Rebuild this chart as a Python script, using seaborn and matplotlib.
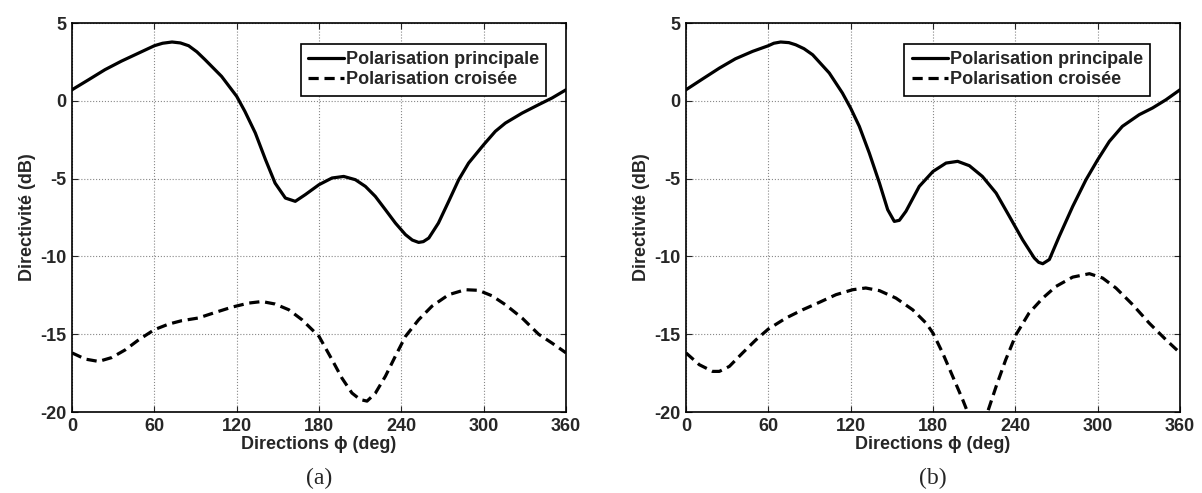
import pandas as pd
import matplotlib
matplotlib.use("Agg")
import matplotlib.pyplot as plt
import seaborn as sns

# Panel (a)
phi_a_pp = [0, 12, 24, 36, 48.6, 60, 66, 72.9, 79, 85, 91, 97, 109, 120, 126, 133.6, 141, 148,
            155.5, 162.7, 170, 180, 189.5, 198, 206.5, 213.8, 221, 228.4, 235.7, 243, 248,
            252.6, 256, 260, 267, 274.5, 281.8, 289, 300, 308.5, 315.8, 328, 340, 349.8, 360]
pp_a = [0.71, 1.35, 2.0, 2.55, 3.07, 3.54, 3.7, 3.78, 3.72, 3.54, 3.15, 2.64, 1.57, 0.29, -0.68,
        -2.07, -3.78, -5.29, -6.25, -6.46, -6.03, -5.39, -4.96, -4.86, -5.07, -5.5, -6.14, -7.0,
        -7.86, -8.6, -8.95, -9.1, -9.05, -8.82, -7.86, -6.46, -5.07, -4.0, -2.82, -1.96, -1.43,
        -0.79, -0.25, 0.18, 0.71]
phi_a_cx = [0, 9.7, 19.4, 29, 38.9, 48.6, 60, 70.4, 80, 92, 104.4, 116.6, 128.7, 138.4, 148,
            158, 167.6, 180, 189.5, 196.7, 204, 210, 215, 221, 228.4, 235.7, 243, 252.6, 262.3,
            274.5, 286.6, 296.3, 306, 315.8, 328, 340, 349.8, 360]
cx_a = [-16.2, -16.6, -16.75, -16.5, -16.0, -15.36, -14.71, -14.35, -14.13, -13.96, -13.6,
        -13.26, -13.0, -12.9, -13.06, -13.43, -14.07, -15.14, -16.64, -17.82, -18.78, -19.2,
        -19.3, -18.8, -17.7, -16.4, -15.14, -14.07, -13.2, -12.46, -12.14, -12.18, -12.53,
        -13.1, -13.96, -15.0, -15.57, -16.2]

# Panel (b)
phi_b_pp = [0, 12, 24.3, 36, 48.6, 60, 64, 69, 75, 80, 86, 92.3, 104.4, 114, 120, 126.3, 133.6,
            141, 147, 151.8, 155.5, 160.3, 170, 180, 189.5, 198, 206.5, 216, 226, 235.7, 245.3,
            253.8, 257, 260, 264.8, 272, 281.8, 291.5, 300, 308.5, 318, 330.3, 340, 349.8, 360]
pp_b = [0.71, 1.4, 2.1, 2.7, 3.18, 3.54, 3.7, 3.78, 3.74, 3.6, 3.35, 2.96, 1.79, 0.5, -0.47,
        -1.64, -3.36, -5.29, -7.0, -7.75, -7.68, -7.1, -5.5, -4.54, -4.0, -3.89, -4.17, -4.86,
        -5.93, -7.43, -8.93, -10.1, -10.38, -10.47, -10.2, -8.71, -6.79, -5.07, -3.79, -2.61,
        -1.64, -0.89, -0.46, 0.07, 0.71]
phi_b_cx = [0, 9.7, 19.4, 24.3, 31.6, 41.3, 51, 60, 72.9, 85, 97, 109.3, 121.5, 131, 141, 153,
            165.2, 175, 180, 187, 194.3, 201.6, 205.2, 212.5, 219.8, 226, 233, 240.5, 250, 260,
            269.6, 281.8, 294, 303.6, 313.3, 325.5, 337.6, 349.8, 360]
cx_b = [-16.2, -16.96, -17.39, -17.39, -17.07, -16.2, -15.36, -14.67, -13.96, -13.43, -12.96,
        -12.46, -12.14, -12.03, -12.2, -12.68, -13.43, -14.29, -14.93, -16.2, -17.7, -19.2,
        -20.0, -22.5, -20.0, -18.36, -16.64, -15.03, -13.64, -12.68, -11.93, -11.33, -11.11,
        -11.39, -12.03, -13.1, -14.29, -15.36, -16.2]

panels = [
    ("(a)", phi_a_pp, pp_a, phi_a_cx, cx_a, 0.9595),
    ("(b)", phi_b_pp, pp_b, phi_b_cx, cx_b, 0.939),
]

sns.set_style("ticks")
plt.rcParams["font.family"] = ["Liberation Sans", "DejaVu Sans"]
plt.rcParams["font.weight"] = "bold"
plt.rcParams["axes.labelweight"] = "bold"
plt.rcParams["axes.unicode_minus"] = False

fig = plt.figure(figsize=(12.02, 4.93), dpi=100)
positions = [[0.0599, 0.1643, 0.411, 0.789], [0.5707, 0.1643, 0.411, 0.789]]
fs = 13
dash = (3.2, 1.8)

for pos, (tag, x1, y1, x2, y2, leg_x) in zip(positions, panels):
    ax = fig.add_axes(pos)
    df1 = pd.DataFrame({"phi": x1, "dir": y1})
    df2 = pd.DataFrame({"phi": x2, "dir": y2})
    sns.lineplot(data=df1, x="phi", y="dir", ax=ax, color="black", lw=2.3,
                 label="Polarisation principale")
    sns.lineplot(data=df2, x="phi", y="dir", ax=ax, color="black", lw=2.3,
                 label="Polarisation croisée")
    ax.lines[0].set_solid_joinstyle("round")
    ax.lines[1].set_dashes(dash)
    ax.set_xlim(0, 360)
    ax.set_ylim(-20, 5)
    ax.set_xticks(range(0, 361, 60))
    ax.set_yticks(range(-20, 6, 5))
    ax.grid(True, linestyle=":", color="#888888", linewidth=0.8)
    ax.tick_params(direction="in", top=True, right=True, length=4, width=0.8,
                   labelsize=fs, pad=4)
    for lab in ax.get_xticklabels() + ax.get_yticklabels():
        lab.set_fontweight("bold")
    for sp in ax.spines.values():
        sp.set_visible(True)
        sp.set_linewidth(1.2)
        sp.set_color("black")
    ax.set_xlabel("Directions \u03d5 (deg)", fontsize=fs, fontweight="bold", labelpad=1)
    ax.set_ylabel("Directivité (dB)", fontsize=fs, fontweight="bold", labelpad=3)
    leg = ax.legend(loc="upper right", bbox_to_anchor=(leg_x, 0.947), fontsize=fs,
                    frameon=True, fancybox=False, handlelength=2.0, handletextpad=0.1,
                    borderpad=0.4, labelspacing=0.2, borderaxespad=0)
    leg.get_frame().set_edgecolor("black")
    leg.get_frame().set_linewidth(1.2)
    leg.get_frame().set_alpha(1)
    for t in leg.get_texts():
        t.set_fontweight("bold")
    leg.get_lines()[1].set_dashes(dash)
    ax.text(0.5, -0.172, tag, transform=ax.transAxes, ha="center", va="center",
            fontsize=17, family=["Liberation Serif", "DejaVu Serif"], fontweight="normal")

fig.savefig("out.png", dpi=100)
